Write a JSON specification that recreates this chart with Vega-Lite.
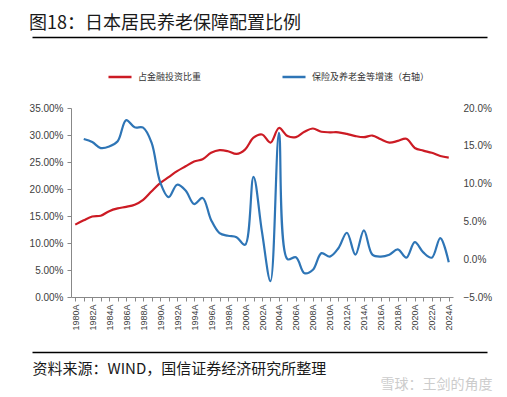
{
  "$schema": "https://vega.github.io/schema/vega-lite/v6.json",
  "width": 382,
  "height": 189,
  "autosize": {"type": "none"},
  "padding": {"left": 71, "top": 108, "right": 54, "bottom": 100},
  "background": "white",
  "config": {"view": {"stroke": null}},
  "title": {"text": "图18：日本居民养老保障配置比例", "anchor": "start", "fontSize": 18, "font": "Noto Sans CJK SC", "fontWeight": "normal", "color": "#1a1a1a", "offset": 4},
  "data": {"values": [
    {"year": "1980A", "share": 13.4, "growth": null},
    {"year": "1981A", "share": 14.2, "growth": 15.9},
    {"year": "1982A", "share": 14.9, "growth": 15.5},
    {"year": "1983A", "share": 15.05, "growth": 14.7},
    {"year": "1984A", "share": 15.9, "growth": 14.9},
    {"year": "1985A", "share": 16.4, "growth": 15.6},
    {"year": "1986A", "share": 16.7, "growth": 18.4},
    {"year": "1987A", "share": 17.1, "growth": 17.45},
    {"year": "1988A", "share": 18.0, "growth": 17.4},
    {"year": "1989A", "share": 19.6, "growth": 15.4},
    {"year": "1990A", "share": 21.1, "growth": 10.2},
    {"year": "1991A", "share": 22.2, "growth": 8.2},
    {"year": "1992A", "share": 23.3, "growth": 9.85},
    {"year": "1993A", "share": 24.2, "growth": 9.1},
    {"year": "1994A", "share": 25.1, "growth": 7.3},
    {"year": "1995A", "share": 25.5, "growth": 8.1},
    {"year": "1996A", "share": 26.7, "growth": 5.2},
    {"year": "1997A", "share": 27.2, "growth": 3.45},
    {"year": "1998A", "share": 27.0, "growth": 3.1},
    {"year": "1999A", "share": 26.5, "growth": 2.9},
    {"year": "2000A", "share": 27.3, "growth": 1.9},
    {"year": "2001A", "share": 29.5, "growth": 10.9},
    {"year": "2002A", "share": 30.1, "growth": 3.6},
    {"year": "2003A", "share": 28.6, "growth": -2.9},
    {"year": "2004A", "share": 31.3, "growth": 16.7},
    {"year": "2005A", "share": 29.8, "growth": 0.0},
    {"year": "2006A", "share": 29.6, "growth": 0.26},
    {"year": "2007A", "share": 30.6, "growth": -1.85},
    {"year": "2008A", "share": 31.2, "growth": -1.4},
    {"year": "2009A", "share": 30.6, "growth": 0.8},
    {"year": "2010A", "share": 30.5, "growth": 0.35},
    {"year": "2011A", "share": 30.5, "growth": 1.45},
    {"year": "2012A", "share": 30.2, "growth": 3.5},
    {"year": "2013A", "share": 29.8, "growth": 0.6},
    {"year": "2014A", "share": 29.6, "growth": 3.8},
    {"year": "2015A", "share": 29.9, "growth": 0.6},
    {"year": "2016A", "share": 29.2, "growth": 0.35},
    {"year": "2017A", "share": 28.6, "growth": 0.6},
    {"year": "2018A", "share": 28.9, "growth": 1.3},
    {"year": "2019A", "share": 29.3, "growth": 0.2},
    {"year": "2020A", "share": 27.6, "growth": 2.25},
    {"year": "2021A", "share": 27.1, "growth": 0.9},
    {"year": "2022A", "share": 26.7, "growth": 0.2},
    {"year": "2023A", "share": 26.1, "growth": 2.8},
    {"year": "2024A", "share": 25.8, "growth": -0.4}
  ]},
  "layer": [
    {
      "mark": {"type": "line", "interpolate": "catmull-rom", "strokeWidth": 2.2},
      "encoding": {
        "x": {"field": "year", "type": "ordinal",
          "scale": {"type": "point", "padding": 0.5},
          "axis": {"orient": "bottom", "title": "雪球：王剑的角度", "titleX": 309, "titleY": 87, "titleAlign": "left", "titleBaseline": "middle", "titleAngle": 0, "titleColor": "#cccccc", "titleFontSize": 14, "titleFont": "Noto Sans CJK SC", "titleFontWeight": "normal",
            "labelAngle": 270, "labelFontSize": 9, "labelFont": "Liberation Sans", "labelColor": "#404040", "labelOverlap": false, "labelPadding": 3,
            "labelExpr": "toNumber(slice(datum.value,0,4)) % 2 == 0 ? datum.value : ''",
            "tickSize": 4, "tickColor": "#888888", "domainColor": "#888888", "grid": false}},
        "y": {"field": "share", "type": "quantitative",
          "scale": {"domain": [0, 35], "nice": false},
          "axis": {"title": null, "values": [0, 5, 10, 15, 20, 25, 30, 35], "labelExpr": "format(datum.value, '.2f') + '%'", "labelFontSize": 10, "labelFont": "Liberation Sans", "labelColor": "#404040", "tickSize": 4, "tickColor": "#888888", "domainColor": "#888888", "grid": false, "labelPadding": 4}},
        "color": {"datum": "占金融投资比重", "type": "nominal",
          "scale": {"domain": ["占金融投资比重", "保险及养老金等增速（右轴）"], "range": ["#CC1B24", "#2E75B6"]},
          "legend": {"title": null, "orient": "none", "legendX": 36, "legendY": -44, "direction": "horizontal", "symbolType": "stroke", "symbolSize": 530, "symbolStrokeWidth": 2.5, "labelFontSize": 9, "labelFont": "Noto Sans CJK SC", "labelColor": "#333333", "columnPadding": 75, "labelOffset": 5}}
      }
    },
    {
      "mark": {"type": "line", "interpolate": "catmull-rom", "strokeWidth": 2.2},
      "encoding": {
        "x": {"field": "year", "type": "ordinal", "scale": {"type": "point", "padding": 0.5}, "axis": null},
        "y": {"field": "growth", "type": "quantitative",
          "scale": {"domain": [-5, 20], "nice": false, "zero": false},
          "axis": {"orient": "right", "title": null, "values": [-5, 0, 5, 10, 15, 20], "labelExpr": "format(datum.value, '.1f') + '%'", "labelFontSize": 10, "labelFont": "Liberation Sans", "labelColor": "#404040", "ticks": false, "domain": false, "grid": false, "labelPadding": 10}},
        "color": {"datum": "保险及养老金等增速（右轴）", "type": "nominal"}
      }
    },
    {
      "data": {"values": [{"s": 0}, {"s": 1}]},
      "mark": {"type": "point", "opacity": 0},
      "encoding": {
        "x": {"field": "s", "type": "quantitative", "scale": {"domain": [0, 1], "range": [-39, 416], "nice": false, "zero": false},
          "axis": {"orient": "top", "offset": 71, "title": null, "labels": false, "ticks": false, "grid": false, "domainColor": "#000000", "domainWidth": 1.3}}
      }
    },
    {
      "data": {"values": [{"s": 0}, {"s": 1}]},
      "mark": {"type": "point", "opacity": 0},
      "encoding": {
        "x": {"field": "s", "type": "quantitative", "scale": {"domain": [0, 1], "range": [-39, 416], "nice": false, "zero": false},
          "axis": {"orient": "bottom", "offset": 55, "title": "资料来源：WIND，国信证券经济研究所整理", "titleAnchor": "start", "titleAlign": "left", "titleFontSize": 15, "titleFont": "Noto Sans CJK SC", "titleFontWeight": "normal", "titleColor": "#1a1a1a", "titlePadding": 9, "labels": false, "ticks": false, "grid": false, "domainColor": "#000000", "domainWidth": 1.3}}
      }
    }
  ],
  "resolve": {"scale": {"x": "independent", "y": "independent"}}
}
